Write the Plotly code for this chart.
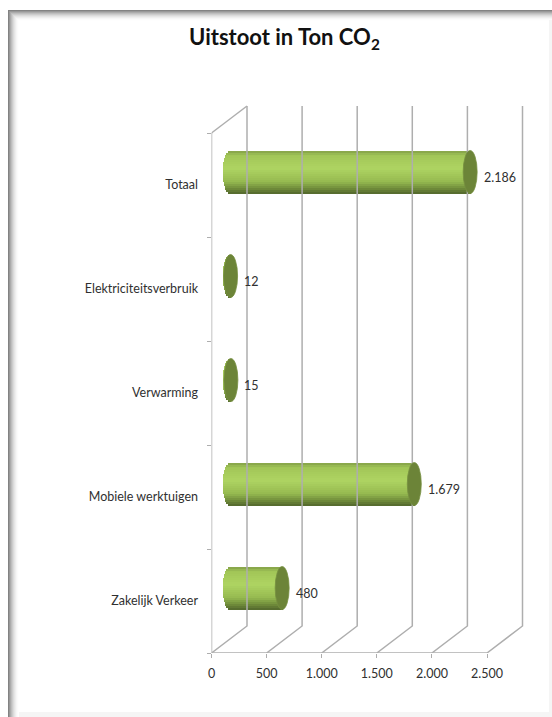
import math
import plotly.graph_objects as go

categories = ["Zakelijk Verkeer", "Mobiele werktuigen", "Verwarming", "Elektriciteitsverbruik", "Totaal"]
values = [480, 1679, 15, 12, 2186]
value_labels = ["480", "1.679", "15", "12", "2.186"]
x_ticks = [0, 500, 1000, 1500, 2000, 2500]
x_tick_labels = ["0", "500", "1.000", "1.500", "2.000", "2.500"]
title_text = "<b>Uitstoot in Ton CO<sub>2</sub></b>"

W, H = 552, 717
X0_PX, Y0_PX = 211.5, 653.0
PX_PER_UNIT = 275.5 / 2500
PX_PER_CAT = 104.0
X_MAX = 2900
Y_MAX = 5.3
DX = 35.5 / PX_PER_UNIT      # depth of the 3D floor, x units
DY = 27.0 / PX_PER_CAT       # depth of the 3D floor, category units
CX = DX / 2                  # cylinder sits mid-depth
CY = 13.0 / PX_PER_CAT
R_Y = 21.5 / PX_PER_CAT
R_X = 7.0 / PX_PER_UNIT
FONT = "Lato"
GRID = "#aeaeae"
TEXT = "#303030"

fig = go.Figure()

# gridlines of the 3D walls
gx, gy = [], []
for t in x_ticks:
    gx += [t, t + DX, t + DX, None]
    gy += [0, DY, 5 + DY, None]
gx += [0, DX, None]
gy += [5, 5 + DY, None]
fig.add_trace(go.Scatter(x=gx, y=gy, mode="lines", line=dict(color=GRID, width=1.5),
                         hoverinfo="skip", showlegend=False))

# cylinder bodies as stacked shaded strips
stops = [(0.0, (132, 160, 72)), (0.1, (160, 196, 86)), (0.42, (174, 212, 98)),
         (0.72, (150, 186, 80)), (0.88, (110, 138, 58)), (1.0, (82, 102, 44))]


def shade(f):
    for (a, ca), (b, cb) in zip(stops, stops[1:]):
        if f <= b:
            k = (f - a) / (b - a)
            return "rgb(%d,%d,%d)" % tuple(round(p + (q - p) * k) for p, q in zip(ca, cb))
    return "rgb(%d,%d,%d)" % stops[-1][1]


N = 22
strip_h = 2 * R_Y / N
for i in range(N):
    f = (i + 0.5) / N                 # 0 at top, 1 at bottom
    t = 1 - 2 * f
    bulge = R_X * math.sqrt(max(0, 1 - t * t))
    fig.add_trace(go.Bar(
        orientation="h",
        y=[k + 0.5 + CY + t * R_Y for k in range(len(values))],
        x=[v + bulge for v in values],
        base=[CX - bulge] * len(values),
        width=strip_h * 1.08,
        marker=dict(color=shade(f), line=dict(width=0)),
        hoverinfo="skip", showlegend=False,
    ))

# dark end caps
shapes = []
for k, v in enumerate(values):
    cx, cy = v + CX, k + 0.5 + CY
    shapes.append(dict(type="circle", xref="x", yref="y", layer="above",
                       x0=cx - R_X, x1=cx + R_X, y0=cy - R_Y, y1=cy + R_Y,
                       fillcolor="#6c8438", line=dict(color="#768f40", width=0.8)))

# page frame with soft shadow
steps = 11
for i in range(steps):
    g = round(255 - 125 * (1 - i / steps) ** 2)
    col = f"rgb({g},{g},{g})"
    shapes.append(dict(type="rect", xref="paper", yref="paper", layer="below",
                       x0=(8 + i) / W, x1=(9 + i) / W, y0=0, y1=(H - 10 - i) / H,
                       fillcolor=col, line=dict(width=0)))
    shapes.append(dict(type="rect", xref="paper", yref="paper", layer="below",
                       x0=(8 + i) / W, x1=1, y0=(H - 11 - i) / H, y1=(H - 10 - i) / H,
                       fillcolor=col, line=dict(width=0)))
shapes.append(dict(type="rect", xref="paper", yref="paper", layer="below",
                   x0=549 / W, x1=1, y0=0, y1=(H - 20) / H, fillcolor="#f5f5f5", line=dict(width=0)))
shapes.append(dict(type="rect", xref="paper", yref="paper", layer="below",
                   x0=19 / W, x1=1, y0=0, y1=5 / H, fillcolor="#f5f5f5", line=dict(width=0)))

# data labels
annotations = []
for k, (v, lab) in enumerate(zip(values, value_labels)):
    annotations.append(dict(x=v + CX, y=k + 0.5 + CY, xref="x", yref="y", text=lab,
                            showarrow=False, xanchor="left", yanchor="middle",
                            xshift=11.5, yshift=-5, font=dict(family=FONT, size=12.5, color=TEXT)))
annotations.append(dict(x=284 / W, y=(H - 38) / H, xref="paper", yref="paper", text=title_text,
                        showarrow=False, xanchor="center", yanchor="middle",
                        font=dict(family=FONT, size=22, color="#111111")))

fig.update_layout(
    width=W, height=H,
    margin=dict(l=0, r=0, t=0, b=0, autoexpand=False),
    paper_bgcolor="white", plot_bgcolor="rgba(0,0,0,0)",
    barmode="overlay", bargap=0,
    showlegend=False,
    shapes=shapes, annotations=annotations,
    font=dict(family=FONT, size=12.5, color=TEXT),
    xaxis=dict(domain=[X0_PX / W, (X0_PX + X_MAX * PX_PER_UNIT) / W], range=[0, X_MAX],
               tickmode="array", tickvals=x_ticks, ticktext=x_tick_labels,
               ticks="outside", ticklen=9, tickcolor="rgba(0,0,0,0)", showgrid=False, zeroline=False,
               showline=False,
               minor=dict(tickmode="array", tickvals=x_ticks, ticks="outside", ticklen=4,
                          tickcolor=GRID, showgrid=False)),
    yaxis=dict(domain=[(H - Y0_PX) / H, (H - Y0_PX + Y_MAX * PX_PER_CAT) / H], range=[0, Y_MAX],
               tickmode="array", tickvals=[k + 0.5 for k in range(5)], ticktext=categories,
               ticks="outside", ticklen=10, tickcolor="rgba(0,0,0,0)", showgrid=False, zeroline=False,
               showline=False,
               minor=dict(tickmode="array", tickvals=list(range(6)), ticks="outside", ticklen=4,
                          tickcolor=GRID, showgrid=False)),
)

# front axis lines
fig.add_trace(go.Scatter(x=[0, 0, x_ticks[-1]], y=[5, 0, 0], mode="lines",
                         line=dict(color=GRID, width=1.5), hoverinfo="skip", showlegend=False))

fig.write_html("out.html", config=dict(displayModeBar=False),
               post_script="document.body.style.margin='0';")
